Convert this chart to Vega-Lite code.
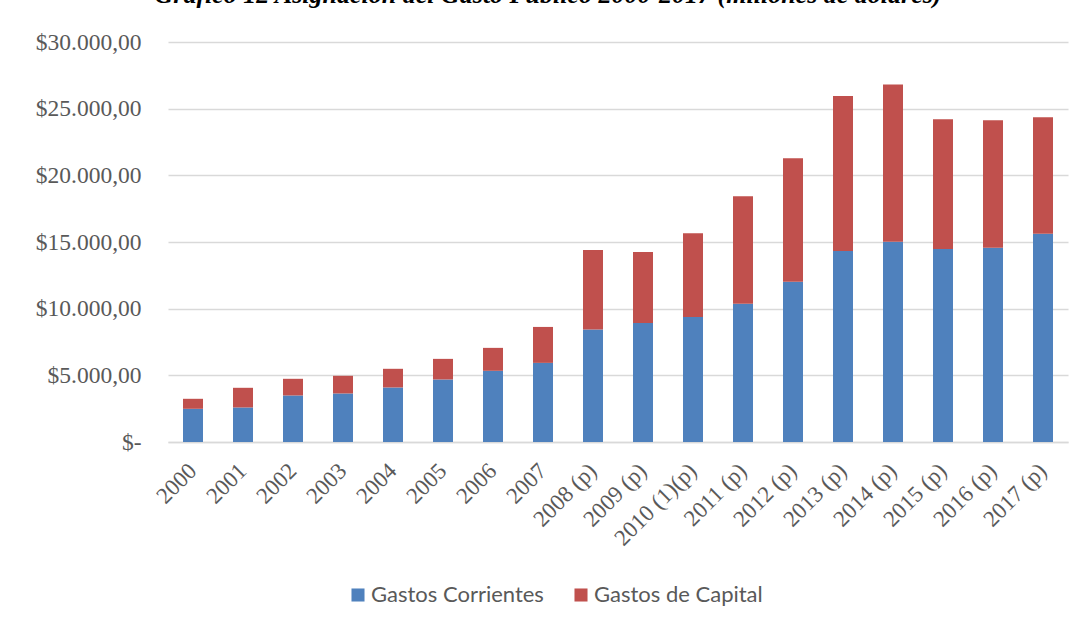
{
  "$schema": "https://vega.github.io/schema/vega-lite/v6.json",
  "width": 900,
  "height": 400,
  "autosize": {"type": "none"},
  "padding": {"left": 168, "top": 42, "right": 15, "bottom": 183},
  "background": "white",
  "title": {
    "text": "Gráfico 12 Asignación del Gasto Público 2000-2017 (millones de dólares)",
    "font": "Liberation Serif",
    "fontSize": 26,
    "fontWeight": "bold",
    "fontStyle": "italic",
    "color": "black",
    "anchor": "middle",
    "frame": "group",
    "baseline": "alphabetic",
    "offset": 1,
    "dx": -70,
    "limit": 0
  },
  "data": {
    "values": [
      {"anio": "2000", "tipo": "Gastos Corrientes", "valor": 2490},
      {"anio": "2000", "tipo": "Gastos de Capital", "valor": 750},
      {"anio": "2001", "tipo": "Gastos Corrientes", "valor": 2590},
      {"anio": "2001", "tipo": "Gastos de Capital", "valor": 1475},
      {"anio": "2002", "tipo": "Gastos Corrientes", "valor": 3490},
      {"anio": "2002", "tipo": "Gastos de Capital", "valor": 1250},
      {"anio": "2003", "tipo": "Gastos Corrientes", "valor": 3640},
      {"anio": "2003", "tipo": "Gastos de Capital", "valor": 1325},
      {"anio": "2004", "tipo": "Gastos Corrientes", "valor": 4090},
      {"anio": "2004", "tipo": "Gastos de Capital", "valor": 1400},
      {"anio": "2005", "tipo": "Gastos Corrientes", "valor": 4690},
      {"anio": "2005", "tipo": "Gastos de Capital", "valor": 1545},
      {"anio": "2006", "tipo": "Gastos Corrientes", "valor": 5340},
      {"anio": "2006", "tipo": "Gastos de Capital", "valor": 1720},
      {"anio": "2007", "tipo": "Gastos Corrientes", "valor": 5935},
      {"anio": "2007", "tipo": "Gastos de Capital", "valor": 2695},
      {"anio": "2008 (p)", "tipo": "Gastos Corrientes", "valor": 8430},
      {"anio": "2008 (p)", "tipo": "Gastos de Capital", "valor": 5965},
      {"anio": "2009 (p)", "tipo": "Gastos Corrientes", "valor": 8930},
      {"anio": "2009 (p)", "tipo": "Gastos de Capital", "valor": 5315},
      {"anio": "2010 (1)(p)", "tipo": "Gastos Corrientes", "valor": 9380},
      {"anio": "2010 (1)(p)", "tipo": "Gastos de Capital", "valor": 6285},
      {"anio": "2011 (p)", "tipo": "Gastos Corrientes", "valor": 10375},
      {"anio": "2011 (p)", "tipo": "Gastos de Capital", "valor": 8060},
      {"anio": "2012 (p)", "tipo": "Gastos Corrientes", "valor": 12020},
      {"anio": "2012 (p)", "tipo": "Gastos de Capital", "valor": 9260},
      {"anio": "2013 (p)", "tipo": "Gastos Corrientes", "valor": 14320},
      {"anio": "2013 (p)", "tipo": "Gastos de Capital", "valor": 11625},
      {"anio": "2014 (p)", "tipo": "Gastos Corrientes", "valor": 15015},
      {"anio": "2014 (p)", "tipo": "Gastos de Capital", "valor": 11805},
      {"anio": "2015 (p)", "tipo": "Gastos Corrientes", "valor": 14470},
      {"anio": "2015 (p)", "tipo": "Gastos de Capital", "valor": 9730},
      {"anio": "2016 (p)", "tipo": "Gastos Corrientes", "valor": 14565},
      {"anio": "2016 (p)", "tipo": "Gastos de Capital", "valor": 9560},
      {"anio": "2017 (p)", "tipo": "Gastos Corrientes", "valor": 15615},
      {"anio": "2017 (p)", "tipo": "Gastos de Capital", "valor": 8735}
    ]
  },
  "mark": {"type": "bar"},
  "encoding": {
    "x": {
      "field": "anio",
      "type": "nominal",
      "sort": null,
      "scale": {"paddingInner": 0.6, "paddingOuter": 0.3},
      "axis": {
        "title": null,
        "labelAngle": -45,
        "labelAlign": "right",
        "labelBaseline": "middle",
        "labelFont": "Liberation Serif",
        "labelFontSize": 23,
        "labelColor": "#595959",
        "labelPadding": 25,
        "ticks": false,
        "domainColor": "#D9D9D9",
        "domainWidth": 1.5,
        "grid": false
      }
    },
    "y": {
      "field": "valor",
      "type": "quantitative",
      "stack": "zero",
      "scale": {"domain": [0, 30000], "nice": false},
      "axis": {
        "title": null,
        "values": [0, 5000, 10000, 15000, 20000, 25000, 30000],
        "labelExpr": "datum.value == 0 ? '$-\u00a0\u00a0\u00a0' : '$' + replace(replace(replace(format(datum.value, ',.2f'), ',', '#'), '.', ','), '#', '.')",
        "labelFont": "Liberation Serif",
        "labelFontSize": 23.5,
        "labelColor": "#595959",
        "labelPadding": 27,
        "ticks": false,
        "domain": false,
        "grid": true,
        "gridColor": "#D9D9D9",
        "gridWidth": 1.5
      }
    },
    "order": {"field": "tipo", "sort": "ascending"},
    "color": {
      "field": "tipo",
      "type": "nominal",
      "scale": {"domain": ["Gastos Corrientes", "Gastos de Capital"], "range": ["#4F81BD", "#C0504D"]},
      "legend": {
        "title": null,
        "orient": "none",
        "direction": "horizontal",
        "legendX": 179,
        "legendY": 542,
        "symbolType": "square",
        "symbolSize": 170,
        "symbolStrokeWidth": 0,
        "labelFont": "Lato",
        "labelFontSize": 22,
        "labelColor": "#595959",
        "labelOffset": 2,
        "labelLimit": 0,
        "columnPadding": 26
      }
    }
  },
  "config": {"view": {"stroke": null}}
}
